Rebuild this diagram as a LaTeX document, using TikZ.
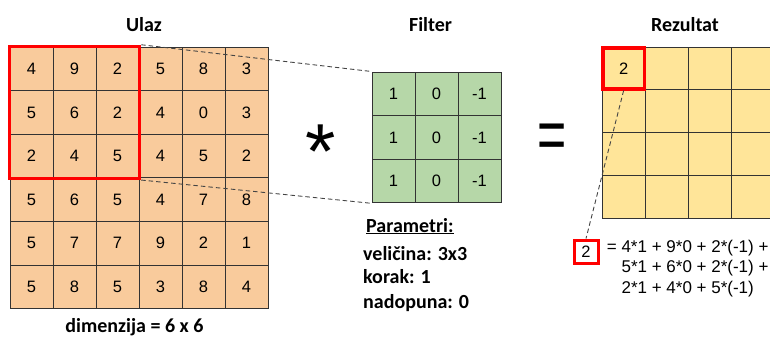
\documentclass[tikz,border=0pt]{standalone}
\usepackage{fontspec}
\usepackage{graphicx}
\setmainfont{Liberation Sans}
\newfontfamily\calib{Carlito}
\usetikzlibrary{fit}
\definecolor{inputfill}{HTML}{F9CB9C}
\definecolor{filterfill}{HTML}{B6D7A8}
\definecolor{resfill}{HTML}{FFE599}
\definecolor{gridline}{HTML}{333333}
\definecolor{dashgray}{HTML}{444444}
\begin{document}
\begin{tikzpicture}[x=1pt,y=-1pt,
  cell/.style={draw=gridline, line width=1pt, inner sep=0pt, minimum width=43pt, font=\fontsize{16.5}{18}\selectfont},
  incell/.style={cell, fill=inputfill, minimum height=43.6pt},
  fcell/.style={cell, fill=filterfill, minimum height=43.6pt},
  rcell/.style={cell, fill=resfill, minimum width=43.3pt, minimum height=42.75pt},
  redbox/.style={draw=red, line width=3.5pt, inner sep=0pt},
  dashline/.style={draw=dashgray, line width=0.9pt, dash pattern=on 4.5pt off 3pt},
  title/.style={font=\calib\bfseries\fontsize{20}{24}\selectfont},
  param/.style={font=\calib\bfseries\fontsize{20}{24}\selectfont, anchor=base west, inner sep=0pt}
]
\useasboundingbox (0,0) rectangle (770,338);

% titles
\node[title] (tin) at (144,25) {Ulaz};
\node[title] (tfl) at (430.5,25) {Filter};
\node[title] (tres) at (685,25) {Rezultat};

% input grid
\foreach \row [count=\r] in {{4,9,2,5,8,3},{5,6,2,4,0,3},{2,4,5,4,5,2},{5,6,5,4,7,8},{5,7,7,9,2,1},{5,8,5,3,8,4}} {
  \foreach \v [count=\c] in \row {
    \node[incell] (in-\r-\c) at ({10+43*(\c-0.5)},{47+43.6*(\r-0.5)}) {\v};
  }
}
\node[redbox, fit=(in-1-1)(in-3-3)] (win) {};

% filter grid
\foreach \r in {1,2,3} {
  \foreach \v [count=\c] in {1,0,-1} {
    \node[fcell] (fl-\r-\c) at ({372+43*(\c-0.5)},{72+43.6*(\r-0.5)}) {\v};
  }
}

% dashed projection lines
\draw[dashline] (win.north east) -- (fl-1-1.north west);
\draw[dashline] (win.south east) -- (fl-3-1.south west);

% operators
\node[font=\fontsize{78}{78}\selectfont, inner sep=0pt] (ast) at (320.5,151.5) {*};
\node[font=\fontsize{50}{50}\selectfont, inner sep=0pt] (eq) at (552.5,142) {\scalebox{1}[1.45]{=}};

% result grid
\foreach \r in {1,2,3,4} {
  \foreach \c in {1,2,3,4} {
    \node[rcell] (rs-\r-\c) at ({602+43.3*(\c-0.5)},{47+42.75*(\r-0.5)}) {};
  }
}
\node[font=\fontsize{16.5}{18}\selectfont] (rsv) at (rs-1-1) {2};
\node[redbox, fit=(rs-1-1), inner sep=-1.5pt] (rbox) {};

% calculation
\node[redbox, line width=3pt, minimum width=24pt, minimum height=23pt, font=\fontsize{16.5}{18}\selectfont] (small) at (586,251.5) {2};
\draw[dashline] (rbox.south) -- (small.north);
\node[anchor=north west, inner sep=0pt, align=left, font=\fontsize{17}{20.3}\selectfont] (calc) at (606.7,240) {= 4*1 + 9*0 + 2*(-1) +\\\phantom{= }5*1 + 6*0 + 2*(-1) +\\\phantom{= }2*1 + 4*0 + 5*(-1)};

% parameters
\node[param] (ptitle) at (366,232) {\underline{Parametri:}};
\node[param] (p1) at (363,260) {veličina: 3x3};
\node[param] (p2) at (363,283.5) {korak: 1};
\node[param] (p3) at (363,308) {nadopuna: 0};

% dimension label
\node[title, anchor=base] (dim) at (134.5,332) {dimenzija = 6 x 6};
\end{tikzpicture}
\end{document}
